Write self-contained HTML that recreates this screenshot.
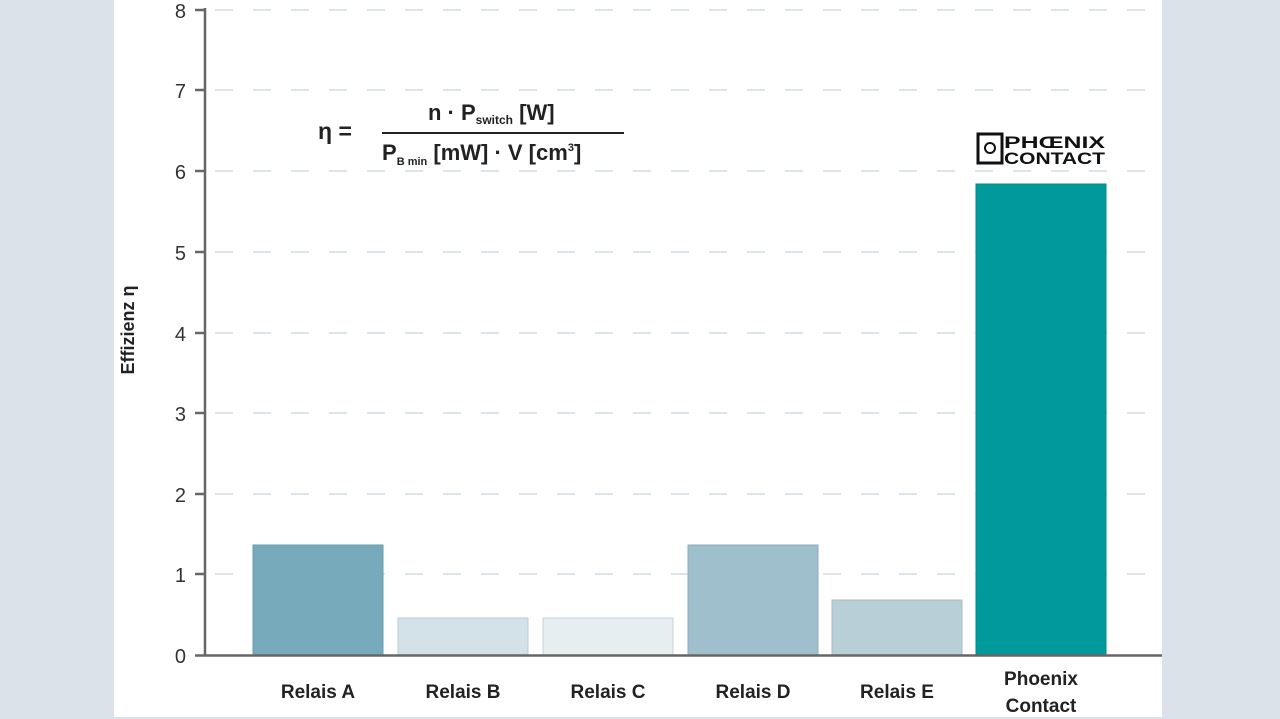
<!DOCTYPE html><html><head><style>body{margin:0;background:#dce2ea;width:1280px;height:719px;overflow:hidden}</style></head><body>
<svg width="1280" height="719" xmlns="http://www.w3.org/2000/svg" style="position:absolute;left:0;top:0">
<rect x="0" y="0" width="1280" height="719" fill="#dce2ea"/>
<rect x="114" y="0" width="1048" height="717" fill="#ffffff"/>
<g stroke="#dce6ea" stroke-width="2" stroke-dasharray="18,20">
<line x1="215" y1="574" x2="1162" y2="574"/><line x1="215" y1="494" x2="1162" y2="494"/><line x1="215" y1="413" x2="1162" y2="413"/><line x1="215" y1="333" x2="1162" y2="333"/><line x1="215" y1="252" x2="1162" y2="252"/><line x1="215" y1="171" x2="1162" y2="171"/><line x1="215" y1="90" x2="1162" y2="90"/><line x1="215" y1="10" x2="1162" y2="10"/>
</g>
<g>
<rect x="253" y="545" width="130" height="110" fill="#77abbb" stroke="#6a9cad"/>
<rect x="398" y="618" width="130" height="37" fill="#d3e2e8" stroke="#b8cbd3"/>
<rect x="543" y="618" width="130" height="37" fill="#e6eef1" stroke="#c6d4da"/>
<rect x="688" y="545" width="130" height="110" fill="#9fbfcc" stroke="#8eaebb"/>
<rect x="832" y="600" width="130" height="55" fill="#b9cfd8" stroke="#a5bcc6"/>
<rect x="976" y="184" width="130" height="471" fill="#009a9c" stroke="#008a8c"/>
</g>
<g stroke="#666" stroke-width="2.5">
<line x1="205" y1="8" x2="205" y2="656"/><line x1="195" y1="655.5" x2="1162" y2="655.5"/>
<line x1="195" y1="574" x2="205" y2="574"/><line x1="195" y1="494" x2="205" y2="494"/><line x1="195" y1="413" x2="205" y2="413"/><line x1="195" y1="333" x2="205" y2="333"/><line x1="195" y1="252" x2="205" y2="252"/><line x1="195" y1="171" x2="205" y2="171"/><line x1="195" y1="90" x2="205" y2="90"/><line x1="195" y1="10" x2="205" y2="10"/>
</g>
<g font-family="Liberation Sans, sans-serif" font-size="20" fill="#333" text-anchor="end">
<text x="186" y="663">0</text><text x="186" y="582">1</text><text x="186" y="502">2</text><text x="186" y="421">3</text><text x="186" y="341">4</text><text x="186" y="260">5</text><text x="186" y="179">6</text><text x="186" y="98">7</text><text x="186" y="18">8</text>
</g>
<text transform="translate(134,330) rotate(-90)" font-family="Liberation Sans, sans-serif" font-size="18" font-weight="bold" fill="#222" text-anchor="middle">Effizienz η</text>
<g font-family="Liberation Sans, sans-serif" font-size="19" font-weight="bold" fill="#222" text-anchor="middle">
<text x="318" y="698">Relais A</text><text x="463" y="698">Relais B</text><text x="608" y="698">Relais C</text><text x="753" y="698">Relais D</text><text x="897" y="698">Relais E</text>
<text x="1041" y="685">Phoenix</text><text x="1041" y="712">Contact</text>
</g>
<g font-family="Liberation Sans, sans-serif" font-weight="bold" fill="#222">
<text x="318" y="139" font-size="23">η =</text>
<text x="428" y="120" font-size="22">n · P<tspan font-size="12" dy="4">switch</tspan><tspan dy="-4"> [W]</tspan></text>
<line x1="382" y1="133" x2="624" y2="133" stroke="#222" stroke-width="2"/>
<text x="382" y="160" font-size="22">P<tspan font-size="11" dy="5">B min</tspan><tspan dy="-5"> [mW] · V [cm</tspan><tspan font-size="11" dy="-9">3</tspan><tspan dy="9">]</tspan></text>
</g>
<g>
<rect x="978" y="134" width="24" height="29" fill="none" stroke="#111" stroke-width="3"/>
<circle cx="990" cy="148" r="5" fill="none" stroke="#111" stroke-width="2"/>
<text x="1004" y="148" font-family="Liberation Sans, sans-serif" font-size="17" font-weight="bold" fill="#111" textLength="101" lengthAdjust="spacingAndGlyphs">PHŒNIX</text>
<text x="1004" y="164" font-family="Liberation Sans, sans-serif" font-size="17" font-weight="bold" fill="#111" textLength="101" lengthAdjust="spacingAndGlyphs">CONTACT</text>
</g>
</svg></body></html>
